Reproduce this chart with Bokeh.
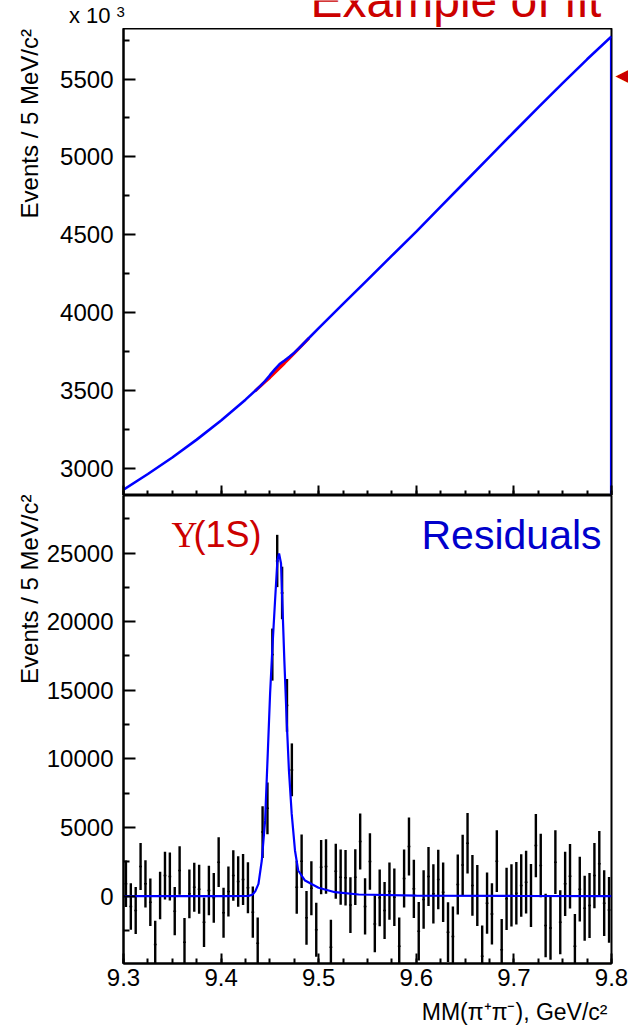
import numpy as np
from bokeh.plotting import figure
from bokeh.models import Range1d, FixedTicker, Label, LinearAxis
from bokeh.layouts import column, row
from bokeh.core.properties import value
from bokeh.embed import file_html
from bokeh.resources import INLINE

# ---------------- data ----------------
x_lo, x_hi = 9.3, 9.8
bin_width = 0.005  # GeV (5 MeV bins)

# residuals (data - background), one per 5 MeV bin, 100 bins from 9.300 to 9.800
residuals = [900, -750, -1045, 2160, 900, -440, -3520, 50, 1500, 1430,
             -1090, 1870, -3350, 170, 650, 510, -1900, 410, -120, 2480,
             -1215, 340, 1500, 1070, 1215, 610, -1170, -3430, 4670, 6400,
             17600, 24420, 22090, 13900, 9200, 650, 2550, -1580, 580, -2450,
             2110, 2160, -3720, 1820, 1385, 1340, -650, 1385, 3985, -750,
             2530, -2020, -120, -1045, 365, -73, -3650, 1290, 3620, 535,
             -2550, -240, 1430, 170, 1215, 290, -2620, -2940, 850, 2280,
             3860, 780, 50, -4370, -510, -1290, 2550, -3910, -195, 50,
             220, 780, 1020, 50, 3690, 2235, -2140, -2310, 2480, -1900,
             900, 1460, -3650, 510, -875, -680, 1500, 2360, -510, -1000]

# background fit in the upper panel (units of 10^3 events / 5 MeV)
bg_mass = [9.300, 9.325, 9.350, 9.375, 9.400, 9.425, 9.450, 9.475, 9.500, 9.525, 9.550,
           9.575, 9.600, 9.625, 9.650, 9.675, 9.700, 9.725, 9.750, 9.775, 9.800]
bg_kevents = [2861, 2962, 3068, 3183, 3306, 3440, 3582, 3738, 3900, 4055, 4210,
              4365, 4520, 4680, 4840, 5000, 5160, 5318, 5474, 5627, 5774]

# signal region of the upper-panel fit: background and background+signal
bump_mass = [9.435, 9.440, 9.445, 9.450, 9.455, 9.460, 9.465, 9.470, 9.475, 9.480, 9.490]
bump_bg = [3497, 3525, 3554, 3582, 3613, 3644, 3675, 3707, 3738, 3770, 3835]
bump_total = [3497, 3527, 3559, 3597, 3634, 3669, 3692, 3716, 3742, 3772, 3836]

# signal fit on the residuals (events / 5 MeV)
sig_mass = [9.300, 9.400, 9.428, 9.432, 9.435, 9.4383, 9.4417, 9.4451, 9.4478, 9.4502,
            9.4526, 9.4553, 9.4577, 9.4594, 9.4614, 9.4628, 9.4648, 9.4672, 9.4695,
            9.4723, 9.4757, 9.479, 9.486, 9.4998, 9.5167, 9.541, 9.600, 9.700, 9.800]
sig_events = [0, 0, 20, 100, 350, 900, 2600, 5520, 10380, 14770,
              18150, 21560, 24470, 24960, 24230, 21310, 17180, 12810, 9160,
              6030, 3330, 1870, 1140, 610, 290, 120, 40, 15, 5]

x_ticks = [9.3, 9.4, 9.5, 9.6, 9.7, 9.8]
x_minor = [9.3 + 0.025 * k for k in range(21)]
top_yticks = [3000, 3500, 4000, 4500, 5000, 5500]
top_yminor = [2750, 3250, 3750, 4250, 4750, 5250, 5750]
bot_yticks = [0, 5000, 10000, 15000, 20000, 25000]
bot_yminor = [-2500, 2500, 7500, 12500, 17500, 22500, 27500]

y_title = "Events / 5 MeV/c²"
x_title = "MM(π⁺π⁻), GeV/c²"
arrow_level = 5523   # where the (cut) red arrow points, upper panel units

# ---------------- derived ----------------
centers = x_lo + bin_width * (np.arange(len(residuals)) + 0.5)
res = np.array(residuals, dtype=float)
err = np.sqrt(np.interp(centers, bg_mass, bg_kevents) * 1000.0)

fit_x = [m for m in bg_mass if m < bump_mass[0]] + bump_mass + [m for m in bg_mass if m > bump_mass[-1]]
fit_y = [v for m, v in zip(bg_mass, bg_kevents) if m < bump_mass[0]] + bump_total + \
        [v for m, v in zip(bg_mass, bg_kevents) if m > bump_mass[-1]]

FONT = "Liberation Sans"
RED = "#cc0000"
BLUE = "#0000ff"
TICK_FS = "24px"
MID = 0.3465   # offset (in em) between the vertical middle of a text and its baseline

W, H = 628, 1026
HEAD_H = 28          # strip above the upper frame
LEFT_W = 43          # strip holding the y titles
FOOT_H = 28          # strip holding the x title
MAIN_W = W - LEFT_W
BL = 122 - LEFT_W    # left border of the main figures
BR = 18              # right border


def style(p):
    p.background_fill_color = "white"
    p.border_fill_color = "white"
    p.outline_line_color = "black"
    p.outline_line_width = 2
    p.xgrid.grid_line_color = None
    p.ygrid.grid_line_color = None
    for ax in p.axis:
        ax.axis_line_width = 2
        ax.axis_line_color = "black"
        ax.major_tick_line_width = 2
        ax.minor_tick_line_width = 2
        ax.major_tick_out = 0
        ax.minor_tick_out = 0
        ax.major_label_text_font = FONT
        ax.major_label_text_font_size = TICK_FS
        ax.major_label_text_color = "black"
    p.yaxis.major_tick_in = 12
    p.yaxis.minor_tick_in = 6
    p.yaxis.major_label_standoff = 10
    p.xaxis.major_tick_in = 10
    p.xaxis.minor_tick_in = 5


def strip(w, h, xr, yr, **kw):
    s = figure(width=w, height=h, x_range=Range1d(*xr), y_range=Range1d(*yr),
               x_axis_location=None, y_axis_location=None,
               output_backend="svg", toolbar_location=None, **kw)
    s.outline_line_color = None
    s.xgrid.grid_line_color = None
    s.ygrid.grid_line_color = None
    s.background_fill_color = "white"
    s.border_fill_color = "white"
    return s


def put_text(fig, x, baseline, txt, size, color="black", font=FONT, align="left", angle=0.0):
    # anchor at the vertical middle of the text so that its baseline lands on `baseline`
    fs = float(size)
    if angle:
        fig.text(x=[x - MID * fs], y=[-baseline], text=[txt], text_font=value(font),
                 text_font_size=value(f"{size}px"), text_color=color, angle=angle,
                 text_align=align, text_baseline="middle")
    else:
        fig.text(x=[x], y=[-(baseline - MID * fs)], text=[txt], text_font=value(font),
                 text_font_size=value(f"{size}px"), text_color=color,
                 text_align=align, text_baseline="middle")


# ---------------- header strip (canvas pixels, y = -canvas_y) ----------------
head = strip(W, HEAD_H, (0, W), (-HEAD_H, 0), min_border=0)
put_text(head, 310, 17, "Example of fit", 48, color=RED)
put_text(head, 110, 23, "x 10", 22, align="right")
put_text(head, 116, 17, "3", 15)

# ---------------- left strip (y titles) ----------------
left = strip(LEFT_W, H - HEAD_H, (0, LEFT_W), (-H, -HEAD_H), min_border=0)
put_text(left, 37, 28.5, y_title, 24, align="right", angle=np.pi / 2)
put_text(left, 37, 494, y_title, 24, align="right", angle=np.pi / 2)

# ---------------- top panel ----------------
top = figure(frame_width=488, frame_height=467,
             x_range=Range1d(x_lo, x_hi), y_range=Range1d(2824, 5825),
             output_backend="svg", toolbar_location=None,
             min_border_left=BL, min_border_right=BR, min_border_top=0, min_border_bottom=0)
style(top)
top.xaxis.ticker = FixedTicker(ticks=x_ticks, minor_ticks=x_minor)
top.yaxis.ticker = FixedTicker(ticks=top_yticks, minor_ticks=top_yminor)
top.xaxis.major_label_text_font_size = "0px"
top.xaxis.major_label_standoff = 0

top.varea(x=bump_mass, y1=bump_bg, y2=bump_total, fill_color="#ff0000")
top.line(bump_mass, bump_bg, line_color="#ff0000", line_width=3)
top.line(fit_x, fit_y, line_color=BLUE, line_width=2.6)
top.segment(x0=[bg_mass[-1] - 0.0008], y0=[bg_kevents[-1]], x1=[bg_mass[-1] - 0.0008], y1=[2700],
            line_color=BLUE, line_width=1.6)

# red arrow head (cut by the right edge) drawn as the label of a bare right axis
ra = LinearAxis(ticker=FixedTicker(ticks=[arrow_level]), major_label_overrides={arrow_level: "◀"})
ra.axis_line_color = None
ra.major_tick_line_color = None
ra.minor_tick_line_color = None
ra.major_tick_out = 0
ra.major_tick_in = 0
ra.major_label_standoff = 4
ra.major_label_text_font = "DejaVu Sans"
ra.major_label_text_font_size = "17px"
ra.major_label_text_color = RED
top.add_layout(ra, "right")

# ---------------- bottom panel ----------------
bot = figure(frame_width=488, frame_height=468,
             x_range=Range1d(x_lo, x_hi), y_range=Range1d(-4905, 29190),
             output_backend="svg", toolbar_location=None,
             min_border_left=BL, min_border_right=BR, min_border_top=0, min_border_bottom=35)
style(bot)
bot.xaxis.ticker = FixedTicker(ticks=x_ticks, minor_ticks=x_minor)
bot.yaxis.ticker = FixedTicker(ticks=bot_yticks, minor_ticks=bot_yminor)
bot.xaxis.major_label_standoff = 5
bot.xaxis.major_label_overrides = {t: f"{t:.1f}" for t in x_ticks}

bot.segment(x0=centers, y0=res - err, x1=centers, y1=res + err, line_color="black", line_width=2.4)
bot.segment(x0=centers - 0.0014, y0=res, x1=centers + 0.0014, y1=res, line_color="black", line_width=1.5)
bot.line(sig_mass, sig_events, line_color=BLUE, line_width=2.2)

bot.add_layout(Label(x=9.3492, y=26313, text="Υ",
                     text_font="Liberation Serif", text_font_size="36px", text_color=RED,
                     text_align="left", text_baseline="middle"))
bot.add_layout(Label(x=9.3717, y=26313, text="(1S)",
                     text_font=FONT, text_font_size="36px", text_color=RED,
                     text_align="left", text_baseline="middle"))
bot.add_layout(Label(x=9.7898, y=26292, text="Residuals",
                     text_font=FONT, text_font_size="41px", text_color="#0000cc",
                     text_align="right", text_baseline="middle"))

# ---------------- footer strip (x title), frame = canvas x 122..610 ----------------
foot = strip(MAIN_W, FOOT_H, (122, 610), (-H, -H + FOOT_H),
             min_border_left=BL, min_border_right=BR, min_border_top=0, min_border_bottom=0)
put_text(foot, 609, 1019.5, x_title, 23, align="right")

layout = column(head, row(left, column(top, bot, foot, spacing=0), spacing=0), spacing=0)
html = file_html(layout, INLINE)
html = html.replace("<head>", "<head><style>html,body{margin:0;padding:0;}</style>", 1)
open("out.html", "w").write(html)
